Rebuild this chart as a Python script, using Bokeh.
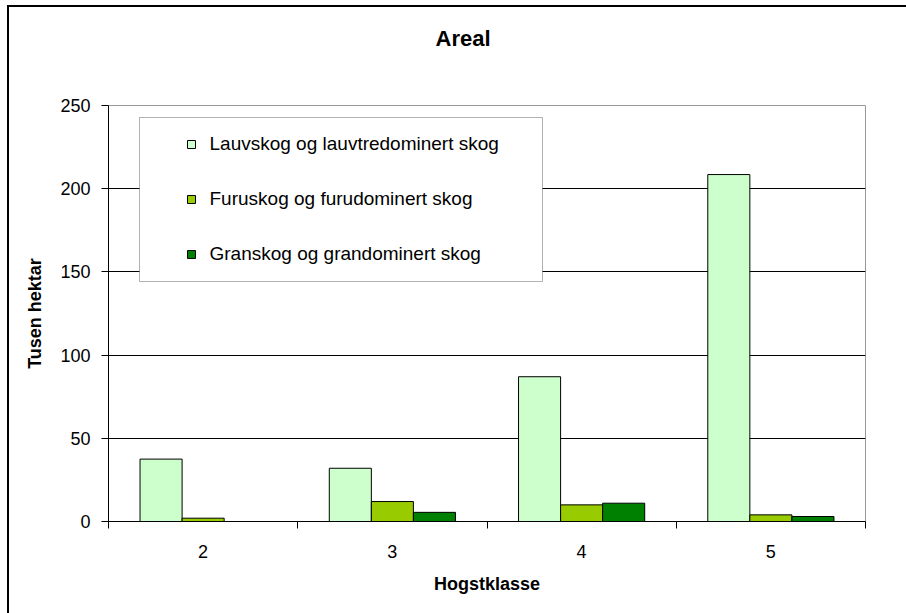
import numpy as np
from bokeh.plotting import figure
from bokeh.models import Range1d, FixedTicker, Legend, LegendItem, BoxAnnotation, Title
from bokeh.embed import file_html
from bokeh.resources import INLINE

# ---- data ----
categories = ["2", "3", "4", "5"]
lauv = [37.5, 32, 87, 208.5]
furu = [2, 12, 10, 4]
gran = [0, 5.5, 11, 3]
series_names = ["Lauvskog og lauvtredominert skog",
                "Furuskog og furudominert skog",
                "Granskog og grandominert skog"]
y_ticks = [0, 50, 100, 150, 200, 250]
title_text = "Areal"

# ---- style ----
colors = ["#CCFFCC", "#99CC00", "#008000"]
FONT = "Liberation Sans"

n = len(categories)
p = figure(width=906, height=613,
           x_range=Range1d(0, n), y_range=Range1d(0, 250),
           output_backend="svg", toolbar_location=None,
           min_border_left=108, min_border_right=41,
           min_border_top=105, min_border_bottom=92)
p.border_fill_alpha = 0
p.styles = {"box-shadow": "inset 7px 5px 0px 0px white, inset 9px 7px 0px 0px black"}

centers = np.arange(n) + 0.5
w = 1 / 4.5
for i, (vals, col) in enumerate(zip([lauv, furu, gran], colors)):
    p.vbar(x=centers + (i - 1) * w, top=vals, bottom=0, width=w,
           fill_color=col, line_color="black", line_width=1)

# axes
xa = p.xaxis[0]
xa.ticker = FixedTicker(ticks=list(centers), minor_ticks=list(range(n + 1)))
xa.major_label_overrides = {float(c): lab for c, lab in zip(centers, categories)}
xa.major_tick_line_color = None
xa.major_tick_in = 0
xa.major_tick_out = 7
xa.minor_tick_in = 0
xa.minor_tick_out = 7
xa.minor_tick_line_color = "black"
xa.axis_line_color = "black"
xa.major_label_text_font = FONT
xa.major_label_text_font_size = "18px"
xa.major_label_text_color = "black"
xa.major_label_standoff = 16
xa.axis_label = "Hogstklasse"
xa.axis_label_text_font = FONT
xa.axis_label_text_font_size = "18px"
xa.axis_label_text_font_style = "bold"
xa.axis_label_text_color = "black"
xa.axis_label_standoff = 13

ya = p.yaxis[0]
ya.ticker = FixedTicker(ticks=y_ticks, minor_ticks=[])
ya.major_tick_in = 0
ya.major_tick_out = 7
ya.major_tick_line_color = "black"
ya.axis_line_color = "black"
ya.major_label_text_font = FONT
ya.major_label_text_font_size = "18px"
ya.major_label_text_color = "black"
ya.major_label_standoff = 11
ya.axis_label = "Tusen hektar"
ya.axis_label_text_font = FONT
ya.axis_label_text_font_size = "18px"
ya.axis_label_text_font_style = "bold"
ya.axis_label_text_color = "black"
ya.axis_label_standoff = 12

p.xgrid.visible = False
p.ygrid.ticker = FixedTicker(ticks=y_ticks)
p.ygrid.grid_line_color = "black"
p.outline_line_color = "#999999"

# spacer between frame and title
p.add_layout(Title(text=" ", text_font_size="1px", standoff=52), "above")

# title (outermost above panel)
p.title.text = title_text
p.title.text_font = FONT
p.title.text_font_size = "22px"
p.title.text_font_style = "bold"
p.title.text_color = "black"
p.title.align = "left"
p.title.offset = 327
p.title.standoff = 0

# legend box
box = BoxAnnotation(left=31 / 757 * n, right=434 / 757 * n,
                    bottom=240 / 416 * 250, top=404 / 416 * 250,
                    fill_color="white", fill_alpha=1,
                    line_color="black", line_width=1)
p.add_layout(box)

items = []
for name, col in zip(series_names, colors):
    r = p.scatter(x=[np.nan], y=[np.nan], marker="square",
                  fill_color=col, line_color="black")
    items.append(LegendItem(label=name, renderers=[r]))
legend = Legend(items=items, location=(72.5, 256.5), padding=0, spacing=33,
                glyph_width=20, glyph_height=20, label_height=20,
                label_standoff=9, label_text_font=FONT,
                label_text_font_size="19px", label_text_color="black",
                background_fill_alpha=0, border_line_alpha=0)
p.add_layout(legend)

open("out.html", "w").write(file_html(p, INLINE))
